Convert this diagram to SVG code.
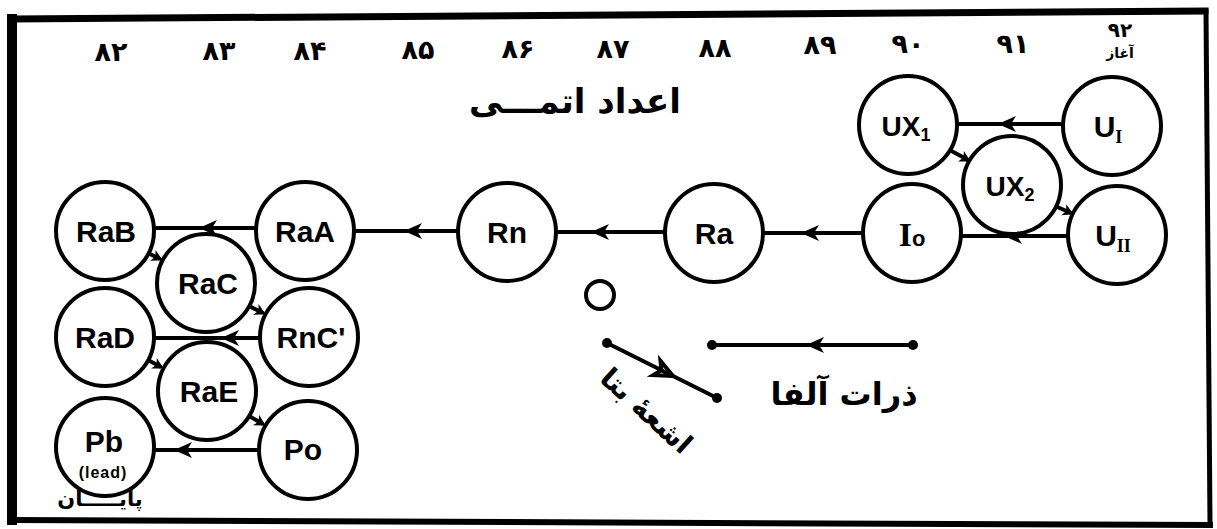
<svg xmlns="http://www.w3.org/2000/svg" width="1217" height="529" viewBox="0 0 1217 529">
<style>
.node circle{fill:#fff;stroke:#000;stroke-width:4}
.lbl{font-family:"Liberation Sans","DejaVu Sans",sans-serif;font-weight:bold;font-size:30px;text-anchor:middle;fill:#000}
.sub{font-size:18px}
.conn path,.conn line{stroke:#000;stroke-width:4;fill:none}
.num{font-family:"DejaVu Sans","Noto Sans",sans-serif;font-weight:bold;font-size:27px;text-anchor:middle;fill:#000}
.fa{font-family:"DejaVu Sans","Noto Sans",sans-serif;font-weight:bold;text-anchor:middle;fill:#000}
.frame line{stroke:#000;stroke-linecap:square}
.head{fill:#000;stroke:none}
</style>
<defs>
<marker id="mid" viewBox="-12 -12 24 24" markerUnits="userSpaceOnUse" markerWidth="24" markerHeight="24" refX="0" refY="0" orient="auto">
<path d="M9,0 L-9,-8 L-4,0 L-9,8 Z" fill="#000"/>
</marker>
<marker id="sm" viewBox="-8 -8 16 16" markerUnits="userSpaceOnUse" markerWidth="16" markerHeight="16" refX="2" refY="0" orient="auto">
<path d="M5,0 L-6,-6 L-3,0 L-6,6 Z" fill="#000"/>
</marker>
<marker id="dot" viewBox="-6 -6 12 12" markerUnits="userSpaceOnUse" markerWidth="12" markerHeight="12" refX="0" refY="0">
<circle r="5" fill="#000"/>
</marker>
</defs>
<rect width="1217" height="529" fill="#fff"/>
<g class="frame">
<line x1="12" y1="19" x2="1205" y2="11" stroke-width="7"/>
<line x1="12" y1="19" x2="12" y2="520" stroke-width="10"/>
<line x1="1206" y1="11" x2="1210" y2="524" stroke-width="5"/>
<line x1="12" y1="520" x2="1210" y2="525" stroke-width="6"/>
</g>
<g id="numbers">
<text class="num" x="111" y="61">۸۲</text>
<text class="num" x="219" y="60">۸۳</text>
<text class="num" x="310" y="60">۸۴</text>
<text class="num" x="418" y="59">۸۵</text>
<text class="num" x="518" y="58">۸۶</text>
<text class="num" x="613" y="58">۸۷</text>
<text class="num" x="715" y="57">۸۸</text>
<text class="num" x="820" y="54">۸۹</text>
<text class="num" x="908" y="53">۹۰</text>
<text class="num" x="1013" y="53">۹۱</text>
<text class="num" x="1120" y="37" style="font-size:20px">۹۲</text>
<text class="fa" x="1120" y="58" style="font-size:14px">آغاز</text>
</g>
<text class="fa" x="575" y="113" style="font-size:34px">اعداد اتمـــی</text>
<g class="conn">
<path d="M1063,124 L1007,124 L958,124" marker-mid="url(#mid)"/>
<line x1="948" y1="149" x2="968" y2="160" marker-end="url(#sm)"/>
<line x1="1055" y1="206" x2="1071" y2="213" marker-end="url(#sm)"/>
<path d="M1068,236 L1013,236 L961,236" marker-mid="url(#mid)"/>
<path d="M863,233 L810,233 L763,233" marker-mid="url(#mid)"/>
<path d="M665,232 L600,232 L556,232" marker-mid="url(#mid)"/>
<path d="M458,231 L413,231 L354,231" marker-mid="url(#mid)"/>
<path d="M256,228 L208,228 L154,228" marker-mid="url(#mid)"/>
<line x1="148" y1="253" x2="160" y2="259" marker-end="url(#sm)"/>
<line x1="249" y1="306" x2="263" y2="313" marker-end="url(#sm)"/>
<path d="M260,338 L230,338 L154,338" marker-mid="url(#mid)"/>
<line x1="148" y1="360" x2="161" y2="367" marker-end="url(#sm)"/>
<line x1="249" y1="416" x2="263" y2="424" marker-end="url(#sm)"/>
<path d="M259,450 L183,450 L154,450" marker-mid="url(#mid)"/>
</g>
<g id="U_I" class="node"><circle cx="1112" cy="126" r="49"/><text class="lbl" x="1108" y="137">U<tspan class="sub" dy="6" style="font-family:'Liberation Serif',serif">I</tspan></text></g>
<g id="UX1" class="node"><circle cx="908" cy="125" r="49"/><text class="lbl" x="906" y="136" style="font-size:28px">UX<tspan class="sub" dy="5">1</tspan></text></g>
<g id="UX2" class="node"><circle cx="1012" cy="185" r="49"/><text class="lbl" x="1010" y="196" style="font-size:28px">UX<tspan class="sub" dy="5">2</tspan></text></g>
<g id="U_II" class="node"><circle cx="1117" cy="235" r="49"/><text class="lbl" x="1113" y="246">U<tspan class="sub" dy="6" style="font-family:'Liberation Serif',serif">II</tspan></text></g>
<g id="Io" class="node"><circle cx="912" cy="233" r="49"/><text class="lbl" x="912" y="246" style="font-family:'Liberation Serif',serif;font-size:34px">I<tspan style="font-family:'Liberation Sans',sans-serif;font-size:22px">o</tspan></text></g>
<g id="Ra" class="node"><circle cx="714" cy="233" r="49"/><text class="lbl" x="714" y="244">Ra</text></g>
<g id="Rn" class="node"><circle cx="507" cy="232" r="49"/><text class="lbl" x="507" y="243">Rn</text></g>
<g id="RaA" class="node"><circle cx="305" cy="231" r="49"/><text class="lbl" x="305" y="242">RaA</text></g>
<g id="RaB" class="node"><circle cx="105" cy="231" r="49"/><text class="lbl" x="106" y="242">RaB</text></g>
<g id="RaC" class="node"><circle cx="206" cy="283" r="49"/><text class="lbl" x="208" y="294">RaC</text></g>
<g id="RnC2" class="node"><circle cx="309" cy="337" r="49"/><text class="lbl" x="311" y="348">RnC'</text></g>
<g id="RaD" class="node"><circle cx="105" cy="337" r="49"/><text class="lbl" x="105" y="348">RaD</text></g>
<g id="RaE" class="node"><circle cx="207" cy="391" r="49"/><text class="lbl" x="209" y="402">RaE</text></g>
<g id="Po" class="node"><circle cx="308" cy="450" r="49"/><text class="lbl" x="303" y="460">Po</text></g>
<g id="Pb" class="node"><circle cx="105" cy="447" r="49"/><text class="lbl" x="104" y="452">Pb</text><text class="lbl" x="103" y="478" style="font-size:16px;letter-spacing:1px">(lead)</text></g>
<text class="fa" x="100" y="506" style="font-size:21px">پایـــــان</text>
<circle id="particle" cx="600" cy="295" r="14" fill="#fff" stroke="#000" stroke-width="4"/>
<g id="legend" class="conn">
<path d="M913,345 L815,345 L712,345" marker-start="url(#dot)" marker-mid="url(#mid)" marker-end="url(#dot)"/>
<line x1="607" y1="343" x2="717" y2="398" marker-start="url(#dot)" marker-end="url(#dot)"/>
<path class="head" d="M0,0 L-18,-8 L-13,0 L-18,8 Z" transform="translate(673,376) rotate(26.6)"/>
</g>
<text class="fa" x="844" y="405" style="font-size:32px">ذرات آلفا</text>
<text class="fa" x="0" y="0" style="font-size:28px" transform="translate(640,418) rotate(42)">اشعهٔ بتا</text>
</svg>
